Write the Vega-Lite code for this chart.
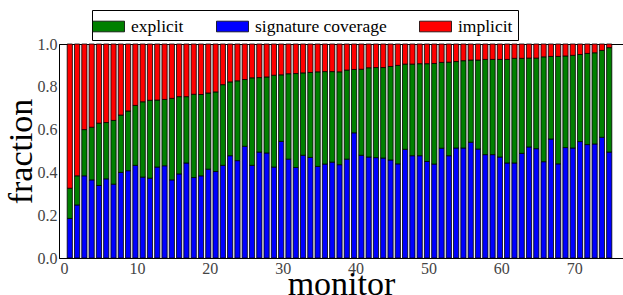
{
  "$schema": "https://vega.github.io/schema/vega-lite/v6.json",
  "width": 564,
  "height": 214,
  "autosize": "none",
  "padding": {"left": 59, "top": 44, "right": 0, "bottom": 37},
  "background": "white",
  "datasets": {
    "ranks": [
      {"key": "signature coverage", "rank": 0},
      {"key": "explicit", "rank": 1},
      {"key": "implicit", "rank": 2}
    ],
    "bars": [
      {"monitor": 1, "signature coverage": 0.185, "explicit": 0.141, "implicit": 0.674},
      {"monitor": 2, "signature coverage": 0.248, "explicit": 0.136, "implicit": 0.616},
      {"monitor": 3, "signature coverage": 0.384, "explicit": 0.216, "implicit": 0.400},
      {"monitor": 4, "signature coverage": 0.365, "explicit": 0.246, "implicit": 0.389},
      {"monitor": 5, "signature coverage": 0.339, "explicit": 0.291, "implicit": 0.370},
      {"monitor": 6, "signature coverage": 0.370, "explicit": 0.263, "implicit": 0.367},
      {"monitor": 7, "signature coverage": 0.345, "explicit": 0.298, "implicit": 0.357},
      {"monitor": 8, "signature coverage": 0.400, "explicit": 0.268, "implicit": 0.332},
      {"monitor": 9, "signature coverage": 0.408, "explicit": 0.279, "implicit": 0.313},
      {"monitor": 10, "signature coverage": 0.433, "explicit": 0.280, "implicit": 0.287},
      {"monitor": 11, "signature coverage": 0.378, "explicit": 0.352, "implicit": 0.270},
      {"monitor": 12, "signature coverage": 0.373, "explicit": 0.364, "implicit": 0.263},
      {"monitor": 13, "signature coverage": 0.425, "explicit": 0.313, "implicit": 0.262},
      {"monitor": 14, "signature coverage": 0.431, "explicit": 0.310, "implicit": 0.259},
      {"monitor": 15, "signature coverage": 0.365, "explicit": 0.381, "implicit": 0.254},
      {"monitor": 16, "signature coverage": 0.393, "explicit": 0.361, "implicit": 0.246},
      {"monitor": 17, "signature coverage": 0.444, "explicit": 0.310, "implicit": 0.246},
      {"monitor": 18, "signature coverage": 0.376, "explicit": 0.389, "implicit": 0.235},
      {"monitor": 19, "signature coverage": 0.384, "explicit": 0.380, "implicit": 0.236},
      {"monitor": 20, "signature coverage": 0.415, "explicit": 0.356, "implicit": 0.229},
      {"monitor": 21, "signature coverage": 0.404, "explicit": 0.372, "implicit": 0.224},
      {"monitor": 22, "signature coverage": 0.433, "explicit": 0.377, "implicit": 0.190},
      {"monitor": 23, "signature coverage": 0.478, "explicit": 0.345, "implicit": 0.177},
      {"monitor": 24, "signature coverage": 0.455, "explicit": 0.373, "implicit": 0.172},
      {"monitor": 25, "signature coverage": 0.522, "explicit": 0.312, "implicit": 0.166},
      {"monitor": 26, "signature coverage": 0.433, "explicit": 0.409, "implicit": 0.158},
      {"monitor": 27, "signature coverage": 0.495, "explicit": 0.348, "implicit": 0.157},
      {"monitor": 28, "signature coverage": 0.491, "explicit": 0.355, "implicit": 0.154},
      {"monitor": 29, "signature coverage": 0.425, "explicit": 0.429, "implicit": 0.146},
      {"monitor": 30, "signature coverage": 0.545, "explicit": 0.311, "implicit": 0.144},
      {"monitor": 31, "signature coverage": 0.462, "explicit": 0.399, "implicit": 0.139},
      {"monitor": 32, "signature coverage": 0.423, "explicit": 0.439, "implicit": 0.138},
      {"monitor": 33, "signature coverage": 0.480, "explicit": 0.385, "implicit": 0.135},
      {"monitor": 34, "signature coverage": 0.470, "explicit": 0.397, "implicit": 0.133},
      {"monitor": 35, "signature coverage": 0.428, "explicit": 0.442, "implicit": 0.130},
      {"monitor": 36, "signature coverage": 0.439, "explicit": 0.432, "implicit": 0.129},
      {"monitor": 37, "signature coverage": 0.448, "explicit": 0.423, "implicit": 0.129},
      {"monitor": 38, "signature coverage": 0.436, "explicit": 0.434, "implicit": 0.130},
      {"monitor": 39, "signature coverage": 0.462, "explicit": 0.416, "implicit": 0.122},
      {"monitor": 40, "signature coverage": 0.585, "explicit": 0.296, "implicit": 0.119},
      {"monitor": 41, "signature coverage": 0.480, "explicit": 0.402, "implicit": 0.118},
      {"monitor": 42, "signature coverage": 0.472, "explicit": 0.417, "implicit": 0.111},
      {"monitor": 43, "signature coverage": 0.469, "explicit": 0.421, "implicit": 0.110},
      {"monitor": 44, "signature coverage": 0.467, "explicit": 0.423, "implicit": 0.110},
      {"monitor": 45, "signature coverage": 0.458, "explicit": 0.437, "implicit": 0.105},
      {"monitor": 46, "signature coverage": 0.440, "explicit": 0.460, "implicit": 0.100},
      {"monitor": 47, "signature coverage": 0.508, "explicit": 0.398, "implicit": 0.094},
      {"monitor": 48, "signature coverage": 0.478, "explicit": 0.428, "implicit": 0.094},
      {"monitor": 49, "signature coverage": 0.478, "explicit": 0.430, "implicit": 0.092},
      {"monitor": 50, "signature coverage": 0.451, "explicit": 0.457, "implicit": 0.092},
      {"monitor": 51, "signature coverage": 0.439, "explicit": 0.470, "implicit": 0.091},
      {"monitor": 52, "signature coverage": 0.513, "explicit": 0.401, "implicit": 0.086},
      {"monitor": 53, "signature coverage": 0.478, "explicit": 0.437, "implicit": 0.085},
      {"monitor": 54, "signature coverage": 0.514, "explicit": 0.404, "implicit": 0.082},
      {"monitor": 55, "signature coverage": 0.514, "explicit": 0.408, "implicit": 0.078},
      {"monitor": 56, "signature coverage": 0.541, "explicit": 0.384, "implicit": 0.075},
      {"monitor": 57, "signature coverage": 0.509, "explicit": 0.416, "implicit": 0.075},
      {"monitor": 58, "signature coverage": 0.483, "explicit": 0.445, "implicit": 0.072},
      {"monitor": 59, "signature coverage": 0.483, "explicit": 0.445, "implicit": 0.072},
      {"monitor": 60, "signature coverage": 0.472, "explicit": 0.456, "implicit": 0.072},
      {"monitor": 61, "signature coverage": 0.444, "explicit": 0.484, "implicit": 0.072},
      {"monitor": 62, "signature coverage": 0.444, "explicit": 0.489, "implicit": 0.067},
      {"monitor": 63, "signature coverage": 0.489, "explicit": 0.444, "implicit": 0.067},
      {"monitor": 64, "signature coverage": 0.519, "explicit": 0.415, "implicit": 0.066},
      {"monitor": 65, "signature coverage": 0.511, "explicit": 0.423, "implicit": 0.066},
      {"monitor": 66, "signature coverage": 0.450, "explicit": 0.490, "implicit": 0.060},
      {"monitor": 67, "signature coverage": 0.556, "explicit": 0.386, "implicit": 0.058},
      {"monitor": 68, "signature coverage": 0.440, "explicit": 0.502, "implicit": 0.058},
      {"monitor": 69, "signature coverage": 0.516, "explicit": 0.428, "implicit": 0.056},
      {"monitor": 70, "signature coverage": 0.514, "explicit": 0.433, "implicit": 0.053},
      {"monitor": 71, "signature coverage": 0.544, "explicit": 0.407, "implicit": 0.049},
      {"monitor": 72, "signature coverage": 0.530, "explicit": 0.426, "implicit": 0.044},
      {"monitor": 73, "signature coverage": 0.533, "explicit": 0.426, "implicit": 0.041},
      {"monitor": 74, "signature coverage": 0.564, "explicit": 0.406, "implicit": 0.030},
      {"monitor": 75, "signature coverage": 0.495, "explicit": 0.488, "implicit": 0.017}
    ]
  },
  "data": {"name": "bars"},
  "transform": [
    {"fold": ["signature coverage", "explicit", "implicit"], "as": ["key", "value"]},
    {"lookup": "key", "from": {"data": {"name": "ranks"}, "key": "key", "fields": ["rank"]}}
  ],
  "mark": {"type": "bar", "size": 5.2, "stroke": "black", "strokeWidth": 0.8, "xOffset": -1.5},
  "encoding": {
    "x": {
      "field": "monitor",
      "type": "quantitative",
      "scale": {"domain": [0, 76], "nice": false, "zero": false},
      "axis": {
        "title": "monitor",
        "values": [0, 10, 20, 30, 40, 50, 60, 70],
        "grid": false,
        "tickSize": 0,
        "labelPadding": 2,
        "labelFontSize": 16,
        "labelFont": "Liberation Serif",
        "labelColor": "#444444",
        "titleFont": "Liberation Serif",
        "titleFontSize": 34,
        "titleFontWeight": "normal",
        "titleColor": "black",
        "titlePadding": -9,
        "domainColor": "black"
      }
    },
    "y": {
      "field": "value",
      "type": "quantitative",
      "stack": "zero",
      "scale": {"domain": [0, 1], "nice": false},
      "axis": {
        "title": "fraction",
        "values": [0, 0.2, 0.4, 0.6, 0.8, 1.0],
        "format": ".1f",
        "grid": false,
        "tickSize": 0,
        "labelPadding": 2,
        "labelFontSize": 16,
        "labelFont": "Liberation Serif",
        "labelColor": "#444444",
        "titleFont": "Liberation Serif",
        "titleFontSize": 34,
        "titleFontWeight": "normal",
        "titleColor": "black",
        "titlePadding": -1,
        "domainColor": "black"
      }
    },
    "color": {
      "field": "key",
      "type": "nominal",
      "scale": {"domain": ["explicit", "signature coverage", "implicit"], "range": ["#008000", "#0000ff", "#ff0000"]},
      "legend": {
        "title": null,
        "orient": "none",
        "direction": "horizontal",
        "legendX": 33,
        "legendY": -34,
        "symbolType": "M-1.5,-0.5H1.5V0.5H-1.5Z",
        "symbolSize": 455,
        "symbolStrokeColor": "black",
        "symbolStrokeWidth": 0.8,
        "symbolOpacity": 1,
        "labelFont": "Liberation Serif",
        "labelFontSize": 17.5,
        "labelColor": "black",
        "labelOffset": 11,
        "columnPadding": 30,
        "padding": 5,
        "strokeColor": "black",
        "fillColor": "white"
      }
    },
    "order": {"field": "rank", "type": "quantitative"}
  },
  "config": {
    "font": "Liberation Serif",
    "view": {"stroke": "black", "strokeWidth": 1}
  }
}
